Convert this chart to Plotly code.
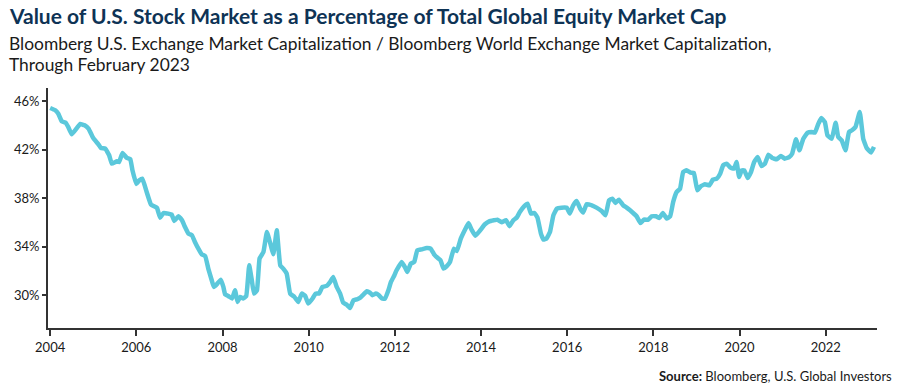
import plotly.graph_objects as go

# Decimal-year positions and share of global equity market cap (%)
years = [
    2004.00, 2004.12, 2004.19, 2004.27, 2004.36, 2004.42, 2004.50, 2004.62, 2004.70, 2004.80,
    2004.89, 2005.00, 2005.12, 2005.18, 2005.28, 2005.37, 2005.43, 2005.55, 2005.60, 2005.68,
    2005.78, 2005.86, 2005.91, 2006.00, 2006.07, 2006.14, 2006.24, 2006.34, 2006.48, 2006.55,
    2006.63, 2006.74, 2006.82, 2006.88, 2006.98, 2007.06, 2007.13, 2007.21, 2007.29, 2007.36,
    2007.44, 2007.52, 2007.60, 2007.67, 2007.75, 2007.80, 2007.88, 2007.96, 2008.02, 2008.06,
    2008.14, 2008.22, 2008.29, 2008.35, 2008.41, 2008.48, 2008.55, 2008.62, 2008.68, 2008.73,
    2008.80, 2008.86, 2008.95, 2009.03, 2009.10, 2009.18, 2009.26, 2009.34, 2009.41, 2009.49,
    2009.57, 2009.67, 2009.76, 2009.84, 2009.92, 2009.99, 2010.09, 2010.16, 2010.24, 2010.32,
    2010.42, 2010.50, 2010.57, 2010.65, 2010.73, 2010.80, 2010.88, 2010.96, 2011.04, 2011.12,
    2011.19, 2011.27, 2011.35, 2011.42, 2011.48, 2011.56, 2011.63, 2011.70, 2011.77, 2011.85,
    2011.91, 2011.99, 2012.04, 2012.16, 2012.24, 2012.29, 2012.37, 2012.45, 2012.52, 2012.62,
    2012.74, 2012.83, 2012.91, 2013.01, 2013.06, 2013.13, 2013.20, 2013.28, 2013.37, 2013.44,
    2013.53, 2013.63, 2013.71, 2013.78, 2013.87, 2013.98, 2014.09, 2014.19, 2014.30, 2014.38,
    2014.48, 2014.58, 2014.66, 2014.75, 2014.83, 2014.90, 2015.00, 2015.08, 2015.16, 2015.24,
    2015.31, 2015.39, 2015.45, 2015.52, 2015.60, 2015.68, 2015.76, 2015.87, 2015.99, 2016.06,
    2016.14, 2016.22, 2016.30, 2016.37, 2016.45, 2016.57, 2016.68, 2016.80, 2016.89, 2016.97,
    2017.05, 2017.12, 2017.20, 2017.30, 2017.38, 2017.46, 2017.53, 2017.61, 2017.70, 2017.78,
    2017.88, 2017.96, 2018.06, 2018.14, 2018.22, 2018.31, 2018.39, 2018.46, 2018.54, 2018.62,
    2018.69, 2018.77, 2018.86, 2018.94, 2019.02, 2019.10, 2019.20, 2019.30, 2019.38, 2019.47,
    2019.55, 2019.62, 2019.70, 2019.79, 2019.87, 2019.93, 2019.99, 2020.05, 2020.11, 2020.19,
    2020.26, 2020.34, 2020.42, 2020.51, 2020.59, 2020.67, 2020.76, 2020.86, 2020.96, 2021.05,
    2021.15, 2021.22, 2021.31, 2021.39, 2021.48, 2021.58, 2021.67, 2021.75, 2021.83, 2021.90,
    2021.98, 2022.04, 2022.14, 2022.23, 2022.29, 2022.37, 2022.46, 2022.54, 2022.61, 2022.69,
    2022.79, 2022.87, 2022.95, 2023.05, 2023.12,
]
us_share_pct = [
    45.45, 45.26, 44.98, 44.35, 44.24, 43.88, 43.28, 43.80, 44.13, 44.02,
    43.75, 42.97, 42.45, 42.15, 42.10, 41.55, 40.86, 41.05, 41.00, 41.74,
    41.33, 41.22, 40.31, 39.18, 39.48, 39.62, 38.52, 37.48, 37.20, 36.40,
    36.79, 36.74, 36.66, 36.13, 36.52, 36.19, 35.63, 35.09, 34.95, 34.40,
    33.85, 33.38, 33.22, 32.20, 31.24, 30.69, 30.96, 31.29, 30.69, 30.08,
    29.92, 29.73, 30.41, 29.45, 29.86, 29.73, 29.92, 32.47, 31.24, 30.14,
    30.41, 33.03, 33.57, 35.22, 34.40, 33.38, 35.36, 32.47, 32.20, 31.79,
    30.14, 29.86, 29.45, 30.14, 29.94, 29.32, 29.73, 30.14, 30.14, 30.69,
    30.77, 31.10, 31.51, 30.69, 30.14, 29.40, 29.23, 28.95, 29.59, 29.67,
    29.78, 30.06, 30.33, 30.22, 30.00, 30.14, 30.00, 29.73, 29.73, 30.41,
    31.10, 31.65, 32.06, 32.75, 32.28, 31.92, 32.61, 32.75, 33.71, 33.79,
    33.90, 33.85, 33.38, 33.03, 32.89, 32.20, 32.39, 32.75, 33.85, 33.65,
    34.67, 35.42, 35.96, 35.42, 34.92, 35.36, 35.86, 36.10, 36.19, 36.24,
    36.02, 36.19, 35.70, 36.19, 36.41, 36.87, 37.34, 37.56, 36.74, 36.79,
    36.41, 35.09, 34.59, 34.68, 35.22, 36.60, 37.15, 37.23, 37.23, 36.74,
    37.42, 37.78, 37.15, 36.82, 37.51, 37.42, 37.23, 36.95, 36.60, 37.83,
    37.97, 37.62, 37.89, 37.42, 37.23, 37.01, 36.79, 36.52, 35.96, 36.24,
    36.24, 36.52, 36.52, 36.38, 36.79, 36.33, 36.52, 37.70, 38.52, 38.80,
    40.17, 40.31, 40.12, 40.09, 38.66, 38.99, 39.15, 39.07, 39.54, 39.62,
    40.03, 40.72, 40.86, 40.53, 40.45, 40.99, 39.76, 40.31, 40.31, 39.68,
    40.12, 40.99, 41.40, 40.66, 40.86, 41.60, 41.32, 41.22, 41.49, 41.27,
    41.40, 41.68, 42.87, 41.96, 42.92, 43.42, 43.47, 43.42, 44.16, 44.62,
    44.29, 43.20, 42.92, 44.24, 43.06, 42.78, 41.96, 43.47, 43.61, 43.88,
    45.12, 42.92, 42.15, 41.77, 42.24,
]

x_tick_vals = [2004, 2006, 2008, 2010, 2012, 2014, 2016, 2018, 2020, 2022]
x_tick_text = ["2004", "2006", "2008", "2010", "2012", "2014", "2016", "2018", "2020", "2022"]
y_tick_vals = [30, 34, 38, 42, 46]
y_tick_text = ["30%", "34%", "38%", "42%", "46%"]

title_text = "Value of U.S. Stock Market as a Percentage of Total Global Equity Market Cap"
subtitle_1 = "Bloomberg U.S. Exchange Market Capitalization / Bloomberg World Exchange Market Capitalization,"
subtitle_2 = "Through February 2023"
source_text = "<b>Source:</b> Bloomberg, U.S. Global Investors"

FONT = "Lato, Roboto, sans-serif"
L, R, T, B = 48, 23, 88, 58
W, H = 900, 386
PW, PH = W - L - R, H - T - B


def px(x):
    return (x - L) / PW


def py(y):
    return (H - B - y) / PH


fig = go.Figure()
fig.add_trace(go.Scatter(
    x=years, y=us_share_pct, mode="lines",
    line=dict(color="#5bc8db", width=4.5, shape="spline", smoothing=0.3),
    hoverinfo="x+y", showlegend=False,
))

fig.update_layout(
    template="none",
    width=W, height=H,
    margin=dict(l=L, r=R, t=T, b=B, autoexpand=False),
    paper_bgcolor="white", plot_bgcolor="white",
    font=dict(family=FONT, color="#1a1a1a"),
    xaxis=dict(
        range=[2003.95, 2023.19], tickvals=x_tick_vals, ticktext=x_tick_text,
        automargin=False,
        showgrid=False, zeroline=False, showline=True, linecolor="#333333", linewidth=2,
        ticks="outside", ticklen=6, tickwidth=1.5, tickcolor="#333333",
        tickfont=dict(size=13, color="#1a1a1a", family=FONT),
    ),
    yaxis=dict(
        range=[27.3, 47.1], tickvals=y_tick_vals, ticktext=y_tick_text,
        automargin=False,
        showgrid=False, zeroline=False, showline=True, linecolor="#333333", linewidth=2,
        ticks="outside", ticklen=4, tickwidth=1.5, tickcolor="#333333",
        tickfont=dict(size=13, color="#1a1a1a", family=FONT),
    ),
    annotations=[
        dict(text="<b>" + title_text + "</b>", xref="paper", yref="paper",
             x=px(7), y=py(16), xanchor="left", yanchor="middle", showarrow=False,
             font=dict(size=21, color="#0e3355", family=FONT, weight=900)),
        dict(text=subtitle_1, xref="paper", yref="paper",
             x=px(7), y=py(43), xanchor="left", yanchor="middle", showarrow=False,
             font=dict(size=17.4, color="#1a1a1a", family=FONT)),
        dict(text=subtitle_2, xref="paper", yref="paper",
             x=px(7), y=py(65), xanchor="left", yanchor="middle", showarrow=False,
             font=dict(size=17.4, color="#1a1a1a", family=FONT)),
        dict(text=source_text, xref="paper", yref="paper",
             x=px(894), y=py(376), xanchor="right", yanchor="middle", showarrow=False,
             font=dict(size=13, color="#1a1a1a", family=FONT)),
    ],
)

fig.write_html("out.html", config={"displayModeBar": False},
               post_script="document.body.style.margin='0';")
